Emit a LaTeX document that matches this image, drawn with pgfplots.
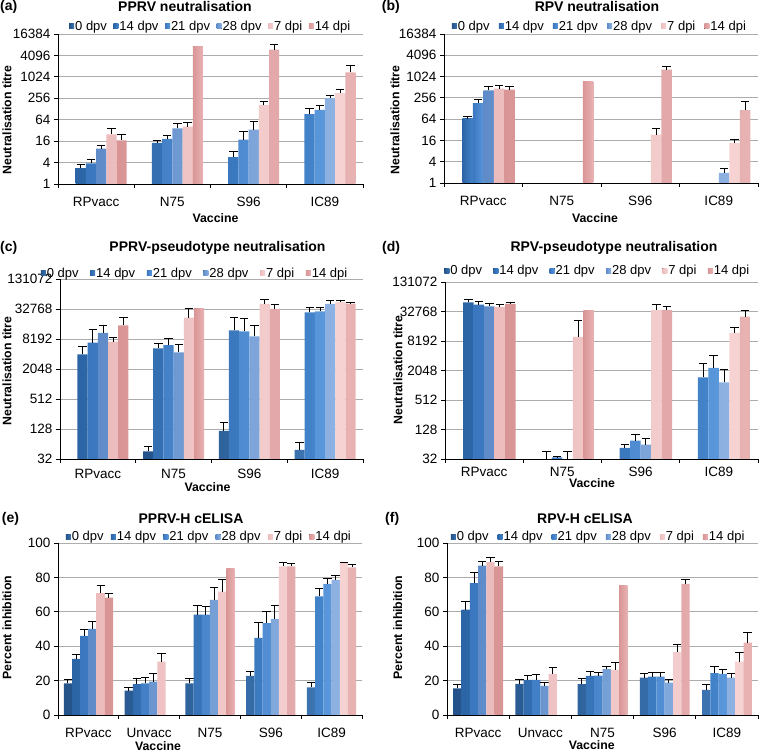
\documentclass[border=0pt]{standalone}
\usepackage{fontspec}
\setmainfont{Liberation Sans}
\usepackage{pgfplots}
\pgfplotsset{compat=1.18}
\definecolor{c0}{HTML}{2C6099}
\definecolor{c1}{HTML}{3471B3}
\definecolor{c2}{HTML}{4584CB}
\definecolor{c3}{HTML}{729DD3}
\definecolor{c4}{HTML}{F1C4C5}
\definecolor{c5}{HTML}{E0A1A3}
\definecolor{l0}{HTML}{24538A}\definecolor{r0}{HTML}{3B74B0}
\definecolor{l1}{HTML}{2C65A6}\definecolor{r1}{HTML}{4383CA}
\definecolor{l2}{HTML}{3A77BF}\definecolor{r2}{HTML}{5996DA}
\definecolor{l3}{HTML}{5F8CC9}\definecolor{r3}{HTML}{8DB2E2}
\definecolor{l4}{HTML}{ECBCBD}\definecolor{r4}{HTML}{F6D3D3}
\definecolor{l5}{HTML}{D99596}\definecolor{r5}{HTML}{E8B2B3}
\tikzset{
  g0/.style={left color=l0, right color=r0, draw=none},
  g1/.style={left color=l1, right color=r1, draw=none},
  g2/.style={left color=l2, right color=r2, draw=none},
  g3/.style={left color=l3, right color=r3, draw=none},
  g4/.style={left color=l4, right color=r4, draw=none},
  g5/.style={left color=l5, right color=r5, draw=none},
}
\newcommand\tickfont{\fontsize{13.5}{15}\selectfont}
\newcommand\legfont{\fontsize{13}{14}\selectfont}
\newcommand\labfont{\bfseries\fontsize{12.3}{14}\selectfont}
\newcommand\titfont{\bfseries\fontsize{14}{16}\selectfont}
\pgfplotsset{
  every axis/.append style={
    scale only axis, ybar, enlarge x limits=false,
    axis x line*=bottom, axis y line*=left,
    axis line style={-, black, line width=0.9pt},
    tick align=outside,
    ymajorgrids, grid style={draw=gray!65, line width=0.8pt},
    major tick length=4pt,
    tick style={draw=black, line width=0.9pt},
    tick label style={font=\tickfont},
    xticklabels={},
    legend style={draw=none, fill=none, anchor=west, legend columns=-1, font=\legfont, inner sep=0pt, nodes={inner sep=1pt}},
    legend cell align=left,
    error bars/error bar style={black, line width=0.9pt},
    error bars/error mark options={black, rotate=90, mark size=4.2pt, line width=0.9pt},
    /pgf/number format/assume math mode=true,
  },
}
\begin{document}
\begin{tikzpicture}
\useasboundingbox (0pt,0pt) rectangle (760pt,752pt);

% ---------------- (a)
\begin{axis}[at={(58pt,568pt)}, anchor=south west, width=305pt, height=150pt,
  ymode=log, ymin=1, ymax=16384, ytick={1,4,16,64,256,1024,4096,16384}, yticklabels={1,4,16,64,256,1024,4096,16384},
  xmin=-0.5, xmax=3.5, xtick={-0.5,0.5,1.5,2.5,3.5},
  extra x ticks={0,1,2,3}, extra x tick labels={RPvacc,N75,S96,IC89},
  extra x tick style={major tick length=0pt, tick label style={anchor=base, yshift=-22.7pt}},
  bar width=10.2pt,
  legend image code/.code={\fill[#1] (0pt,-2.2pt) rectangle (5pt,2.8pt);},
  legend style={at={(0.036,1.05)}, /tikz/every even column/.append style={column sep=5.5pt}}]
\addlegendimage{g0}\addlegendentry{0 dpv}
\addplot[g1, bar shift=-15.3pt, error bars/y dir=plus, error bars/y explicit] table[x=x,y=y,y error plus=e,row sep=\\]{x y e\\0 2.8 0.7\\1 14.2 2.0\\2 5.7 2.6\\3 92 41\\};
\addlegendentry{14 dpv}
\addplot[g2, bar shift=-5.1pt, error bars/y dir=plus, error bars/y explicit] table[x=x,y=y,y error plus=e,row sep=\\]{x y e\\0 3.8 1.0\\1 18.4 4.4\\2 17.6 12.4\\3 120 38\\};
\addlegendentry{21 dpv}
\addplot[g3, bar shift=5.1pt, error bars/y dir=plus, error bars/y explicit] table[x=x,y=y,y error plus=e,row sep=\\]{x y e\\0 9.8 2.4\\1 36.7 13.9\\2 33.6 23.4\\3 259 50\\};
\addlegendentry{28 dpv}
\addplot[g4, bar shift=15.3pt, error bars/y dir=plus, error bars/y explicit] table[x=x,y=y,y error plus=e,row sep=\\]{x y e\\0 24.9 10.9\\1 40.9 14.1\\2 165 49\\3 360 106\\};
\addlegendentry{7 dpi}
\addplot[g5, bar shift=25.5pt, error bars/y dir=plus, error bars/y explicit] table[x=x,y=y,y error plus=e,row sep=\\]{x y e\\0 16.8 7.5\\2 5920 2550\\3 1372 828\\};
\addlegendentry{14 dpi}
\addplot[g5, bar shift=25.5pt, forget plot] coordinates {(1,7230)};
\end{axis}

% ---------------- (b)
\begin{axis}[at={(444pt,569pt)}, anchor=south west, width=314pt, height=149pt,
  ymode=log, ymin=1, ymax=16384, ytick={1,4,16,64,256,1024,4096,16384}, yticklabels={1,4,16,64,256,1024,4096,16384},
  xmin=-0.5, xmax=3.5, xtick={-0.5,0.5,1.5,2.5,3.5},
  extra x ticks={0,1,2,3}, extra x tick labels={RPvacc,N75,S96,IC89},
  extra x tick style={major tick length=0pt, tick label style={anchor=base, yshift=-22.7pt}},
  bar width=10.5pt,
  legend image code/.code={\fill[#1] (0pt,-2.2pt) rectangle (5pt,2.8pt);},
  legend style={at={(0.0245,1.05)}, /tikz/every even column/.append style={column sep=8.1pt}}]
\addlegendimage{g0}\addlegendentry{0 dpv}
\addplot[g1, bar shift=-15.75pt, error bars/y dir=plus, error bars/y explicit] table[x=x,y=y,y error plus=e,row sep=\\]{x y e\\0 64.6 12.4\\};
\addlegendentry{14 dpv}
\addplot[g2, bar shift=-5.25pt, error bars/y dir=plus, error bars/y explicit] table[x=x,y=y,y error plus=e,row sep=\\]{x y e\\0 179 49\\};
\addlegendentry{21 dpv}
\addplot[g3, bar shift=5.25pt, error bars/y dir=plus, error bars/y explicit] table[x=x,y=y,y error plus=e,row sep=\\]{x y e\\0 417 123\\3 1.92 0.74\\};
\addlegendentry{28 dpv}
\addplot[g4, bar shift=15.75pt, error bars/y dir=plus, error bars/y explicit] table[x=x,y=y,y error plus=e,row sep=\\]{x y e\\0 465 125\\2 23.3 12.6\\3 13.5 4.0\\};
\addlegendentry{7 dpi}
\addplot[g5, bar shift=26.25pt, error bars/y dir=plus, error bars/y explicit] table[x=x,y=y,y error plus=e,row sep=\\]{x y e\\0 436 104\\2 1603 382\\3 116 84\\};
\addlegendentry{14 dpi}
\addplot[g5, bar shift=26.25pt, forget plot] coordinates {(1,719)};
\end{axis}

% ---------------- (c)
\begin{axis}[at={(60pt,293pt)}, anchor=south west, width=303pt, height=180pt,
  ymode=log, ymin=32, ymax=131072, ytick={32,128,512,2048,8192,32768,131072}, yticklabels={32,128,512,2048,8192,32768,131072},
  xmin=-0.5, xmax=3.5, xtick={-0.5,0.5,1.5,2.5,3.5},
  extra x ticks={0,1,2,3}, extra x tick labels={RPvacc,N75,S96,IC89},
  extra x tick style={major tick length=0pt, tick label style={anchor=base, yshift=-19.3pt}},
  bar width=10.2pt,
  legend image code/.code={\fill[#1] (0pt,-2.2pt) rectangle (5pt,2.8pt);},
  legend style={at={(-0.064,1.033)}, /tikz/every even column/.append style={column sep=10.6pt}}]
\addplot[g0, bar shift=-25.5pt, error bars/y dir=plus, error bars/y explicit] table[x=x,y=y,y error plus=e,row sep=\\]{x y e\\1 45.6 11.8\\2 118 59\\3 49 20\\};
\addlegendentry{0 dpv}
\addplot[g1, bar shift=-15.3pt, error bars/y dir=plus, error bars/y explicit] table[x=x,y=y,y error plus=e,row sep=\\]{x y e\\0 4040 1780\\1 5330 1370\\2 12220 9980\\3 28100 7800\\};
\addlegendentry{14 dpv}
\addplot[g2, bar shift=-5.1pt, error bars/y dir=plus, error bars/y explicit] table[x=x,y=y,y error plus=e,row sep=\\]{x y e\\0 6925 6035\\1 6200 2120\\2 11680 9920\\3 29400 6500\\};
\addlegendentry{21 dpv}
\addplot[g3, bar shift=5.1pt, error bars/y dir=plus, error bars/y explicit] table[x=x,y=y,y error plus=e,row sep=\\]{x y e\\0 10810 4430\\1 4430 1880\\2 9260 6070\\3 41300 7600\\};
\addlegendentry{28 dpv}
\addplot[g4, bar shift=15.3pt, error bars/y dir=plus, error bars/y explicit] table[x=x,y=y,y error plus=e,row sep=\\]{x y e\\0 7240 1470\\1 21950 12330\\2 41300 9100\\3 45250 3650\\};
\addlegendentry{7 dpi}
\addplot[g5, bar shift=25.5pt, error bars/y dir=plus, error bars/y explicit] table[x=x,y=y,y error plus=e,row sep=\\]{x y e\\0 15330 6870\\2 32768 7232\\3 41900 3350\\};
\addlegendentry{14 dpi}
\addplot[g5, bar shift=25.5pt, forget plot] coordinates {(1,33250)};
\end{axis}

% ---------------- (d)
\begin{axis}[at={(445pt,293pt)}, anchor=south west, width=313pt, height=177pt,
  ymode=log, ymin=32, ymax=131072, ytick={32,128,512,2048,8192,32768,131072}, yticklabels={32,128,512,2048,8192,32768,131072},
  xmin=-0.5, xmax=3.5, xtick={-0.5,0.5,1.5,2.5,3.5},
  extra x ticks={0,1,2,3}, extra x tick labels={RPvacc,N75,S96,IC89},
  extra x tick style={major tick length=0pt, tick label style={anchor=base, yshift=-17.7pt}},
  bar width=10.5pt,
  legend image code/.code={\fill[#1] (0pt,-2.2pt) rectangle (5pt,2.8pt);},
  legend style={at={(-0.003,1.062)}, /tikz/every even column/.append style={column sep=10.3pt}}]
\addlegendimage{g0}\addlegendentry{0 dpv}
\addplot[g1, bar shift=-15.75pt, error bars/y dir=plus, error bars/y explicit] table[x=x,y=y,y error plus=e,row sep=\\]{x y e\\0 50400 8570\\1 30 15\\2 53.7 11.1\\3 1485 1425\\};
\addlegendentry{14 dpv}
\addplot[g2, bar shift=-5.25pt, error bars/y dir=plus, error bars/y explicit] table[x=x,y=y,y error plus=e,row sep=\\]{x y e\\0 45200 7660\\1 34.5 1\\2 75.7 27.9\\3 2305 1935\\};
\addlegendentry{21 dpv}
\addplot[g3, bar shift=5.25pt, error bars/y dir=plus, error bars/y explicit] table[x=x,y=y,y error plus=e,row sep=\\]{x y e\\0 41800 7100\\1 30 15\\2 62.8 21.7\\3 1174 1022\\};
\addlegendentry{28 dpv}
\addplot[g4, bar shift=15.75pt, error bars/y dir=plus, error bars/y explicit] table[x=x,y=y,y error plus=e,row sep=\\]{x y e\\0 40500 6100\\1 9890 11410\\2 35100 11500\\3 11930 3640\\};
\addlegendentry{7 dpi}
\addplot[g5, bar shift=26.25pt, error bars/y dir=plus, error bars/y explicit] table[x=x,y=y,y error plus=e,row sep=\\]{x y e\\0 46600 3800\\2 35100 6700\\3 25720 8350\\};
\addlegendentry{14 dpi}
\addplot[g5, bar shift=26.25pt, forget plot] coordinates {(1,34000)};
\end{axis}

% ---------------- (e)
\begin{axis}[at={(58pt,37pt)}, anchor=south west, width=304pt, height=172pt,
  ymin=0, ymax=100, ytick={0,20,40,60,80,100},
  xmin=-0.5, xmax=4.5, xtick={-0.5,0.5,1.5,2.5,3.5,4.5},
  extra x ticks={0,1,2,3,4}, extra x tick labels={RPvacc,Unvacc,N75,S96,IC89},
  extra x tick style={major tick length=0pt, tick label style={anchor=base, yshift=-22.3pt}},
  bar width=8.2pt,
  legend image code/.code={\fill[#1] (0pt,-2.2pt) rectangle (5pt,2.8pt);},
  legend style={at={(0.0253,1.035)}, /tikz/every even column/.append style={column sep=6.3pt}}]
\addplot[g0, bar shift=-20.5pt, error bars/y dir=plus, error bars/y explicit] table[x=x,y=y,y error plus=e,row sep=\\]{x y e\\0 18.4 2.4\\1 14.2 1.9\\2 18.4 3.0\\3 22.7 2.5\\4 16.1 2.7\\};
\addlegendentry{0 dpv}
\addplot[g1, bar shift=-12.3pt, error bars/y dir=plus, error bars/y explicit] table[x=x,y=y,y error plus=e,row sep=\\]{x y e\\0 32.6 2.4\\1 17.9 3.1\\2 58.3 5.2\\3 44.9 9.1\\4 68.9 4.9\\};
\addlegendentry{14 dpv}
\addplot[g2, bar shift=-4.1pt, error bars/y dir=plus, error bars/y explicit] table[x=x,y=y,y error plus=e,row sep=\\]{x y e\\0 46.0 3.5\\1 18.4 3.3\\2 58.3 4.8\\3 53.4 6.8\\4 76.3 3.3\\};
\addlegendentry{21 dpv}
\addplot[g3, bar shift=4.1pt, error bars/y dir=plus, error bars/y explicit] table[x=x,y=y,y error plus=e,row sep=\\]{x y e\\0 50.1 4.3\\1 19.4 4.9\\2 67.0 7.4\\3 55.9 7.6\\4 78.6 2.4\\};
\addlegendentry{28 dpv}
\addplot[g4, bar shift=12.3pt, error bars/y dir=plus, error bars/y explicit] table[x=x,y=y,y error plus=e,row sep=\\]{x y e\\0 70.9 4.2\\1 31.1 4.8\\2 71.8 6.8\\3 86.4 2.3\\4 88.3 0.6\\};
\addlegendentry{7 dpi}
\addplot[g5, bar shift=20.5pt, error bars/y dir=plus, error bars/y explicit] table[x=x,y=y,y error plus=e,row sep=\\]{x y e\\0 68.3 2.6\\3 86.4 1.6\\4 85.8 2.0\\};
\addlegendentry{14 dpi}
\addplot[g5, bar shift=20.5pt, forget plot] coordinates {(2,84.9)};
\end{axis}

% ---------------- (f)
\begin{axis}[at={(447pt,37pt)}, anchor=south west, width=311pt, height=172pt,
  ymin=0, ymax=100, ytick={0,20,40,60,80,100},
  xmin=-0.5, xmax=4.5, xtick={-0.5,0.5,1.5,2.5,3.5,4.5},
  extra x ticks={0,1,2,3,4}, extra x tick labels={RPvacc,Unvacc,N75,S96,IC89},
  extra x tick style={major tick length=0pt, tick label style={anchor=base, yshift=-22.3pt}},
  bar width=8.3pt,
  legend image code/.code={\fill[#1] (0pt,-2.2pt) rectangle (5pt,2.8pt);},
  legend style={at={(0.0119,1.035)}, /tikz/every even column/.append style={column sep=8pt}}]
\addplot[g0, bar shift=-20.75pt, error bars/y dir=plus, error bars/y explicit] table[x=x,y=y,y error plus=e,row sep=\\]{x y e\\0 15.5 2.0\\1 18.1 2.3\\2 17.9 3.5\\3 21.7 2.6\\4 14.6 2.9\\};
\addlegendentry{0 dpv}
\addplot[g1, bar shift=-12.45pt, error bars/y dir=plus, error bars/y explicit] table[x=x,y=y,y error plus=e,row sep=\\]{x y e\\0 61.2 4.8\\1 20.4 2.5\\2 22.7 2.5\\3 22.3 2.6\\4 24.3 3.9\\};
\addlegendentry{14 dpv}
\addplot[g2, bar shift=-4.15pt, error bars/y dir=plus, error bars/y explicit] table[x=x,y=y,y error plus=e,row sep=\\]{x y e\\0 76.7 6.2\\1 20.4 2.9\\2 22.9 1.8\\3 22.3 2.4\\4 23.9 2.3\\};
\addlegendentry{21 dpv}
\addplot[g3, bar shift=4.15pt, error bars/y dir=plus, error bars/y explicit] table[x=x,y=y,y error plus=e,row sep=\\]{x y e\\0 86.8 2.5\\1 16.9 1.9\\2 26.6 1.9\\3 18.8 2.0\\4 21.7 2.6\\};
\addlegendentry{28 dpv}
\addplot[g4, bar shift=12.45pt, error bars/y dir=plus, error bars/y explicit] table[x=x,y=y,y error plus=e,row sep=\\]{x y e\\0 88.9 2.8\\1 23.9 3.7\\2 26.2 4.5\\3 36.5 4.3\\4 31.1 5.2\\};
\addlegendentry{7 dpi}
\addplot[g5, bar shift=20.75pt, error bars/y dir=plus, error bars/y explicit] table[x=x,y=y,y error plus=e,row sep=\\]{x y e\\0 86.4 2.9\\3 76.3 2.7\\4 42.1 6.1\\};
\addlegendentry{14 dpi}
\addplot[g5, bar shift=20.75pt, forget plot] coordinates {(2,75.1)};
\end{axis}

% ---------------- titles and labels
\node[font=\titfont, anchor=base] at (185pt,740.3pt) {PPRV neutralisation};
\node[font=\titfont, anchor=base] at (597pt,740.3pt) {RPV neutralisation};
\node[font=\titfont, anchor=base] at (217.5pt,500pt) {PPRV-pseudotype neutralisation};
\node[font=\titfont, anchor=base] at (614pt,500pt) {RPV-pseudotype neutralisation};
\node[font=\titfont, anchor=base] at (191pt,228.7pt) {PPRV-H cELISA};
\node[font=\titfont, anchor=base] at (585pt,228.7pt) {RPV-H cELISA};

\node[font=\titfont, anchor=base west, inner sep=0pt] at (0pt,741pt) {(a)};
\node[font=\titfont, anchor=base west, inner sep=0pt] at (381.7pt,741pt) {(b)};
\node[font=\titfont, anchor=base west, inner sep=0pt] at (0pt,500pt) {(c)};
\node[font=\titfont, anchor=base west, inner sep=0pt] at (382pt,500pt) {(d)};
\node[font=\titfont, anchor=base west, inner sep=0pt] at (1.7pt,229pt) {(e)};
\node[font=\titfont, anchor=base west, inner sep=0pt] at (385pt,229pt) {(f)};

\node[font=\labfont, rotate=90, inner sep=0pt] at (7pt,632pt) {Neutralisation titre};
\node[font=\labfont, rotate=90, inner sep=0pt] at (395pt,632pt) {Neutralisation titre};
\node[font=\labfont, rotate=90, inner sep=0pt] at (7pt,381pt) {Neutralisation titre};
\node[font=\labfont, rotate=90, inner sep=0pt] at (398pt,382pt) {Neutralisation titre};
\node[font=\labfont, rotate=90, inner sep=0pt] at (7pt,124.5pt) {Percent inhibition};
\node[font=\labfont, rotate=90, inner sep=0pt] at (397.7pt,124.5pt) {Percent inhibition};

\node[font=\labfont, anchor=base, inner sep=0pt] at (215.5pt,529pt) {Vaccine};
\node[font=\labfont, anchor=base, inner sep=0pt] at (595pt,529.3pt) {Vaccine};
\node[font=\labfont, anchor=base, inner sep=0pt] at (207.5pt,260pt) {Vaccine};
\node[font=\labfont, anchor=base, inner sep=0pt] at (592pt,264.7pt) {Vaccine};
\node[font=\labfont, anchor=base, inner sep=0pt] at (158pt,1.3pt) {Vaccine};
\node[font=\labfont, anchor=base, inner sep=0pt] at (591.7pt,2pt) {Vaccine};
\end{tikzpicture}
\end{document}
